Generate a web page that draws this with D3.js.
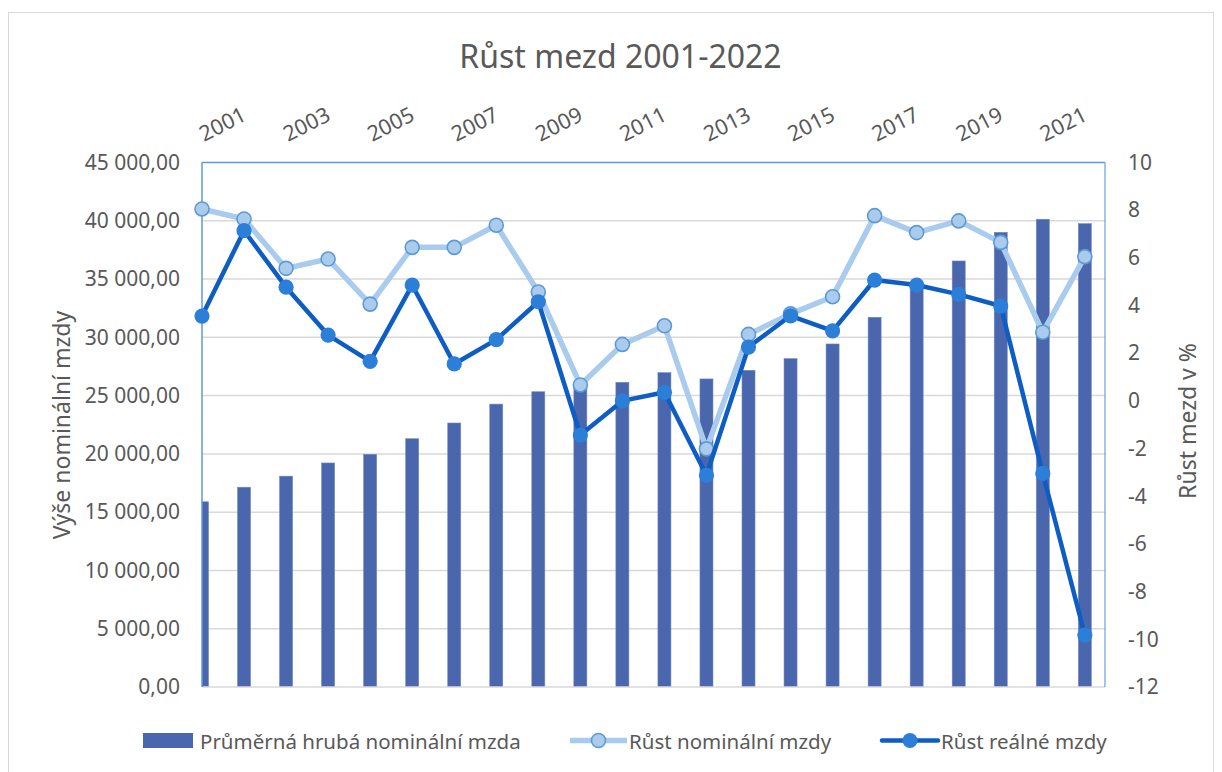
<!DOCTYPE html>
<html>
<head>
<meta charset="utf-8">
<script src="https://cdn.jsdelivr.net/npm/d3@7"></script>
<style>
  body { margin: 0; background: #fff; }
  svg { display: block; }
  text { font-family: "Noto Sans", "Open Sans", sans-serif; fill: #595959; }
</style>
</head>
<body>
<svg id="chart" width="1222" height="772"></svg>
<script>
// Years on the category axis
const years = ["2001","2002","2003","2004","2005","2006","2007","2008","2009","2010","2011",
               "2012","2013","2014","2015","2016","2017","2018","2019","2020","2021","2022"];
// Year labels printed along the top axis
const topLabels = ["2001","2003","2005","2007","2009","2011","2013","2015","2017","2019","2021"];

// Average gross nominal wage (CZK)
const wages = [15890, 17140, 18090, 19220, 19960, 21300, 22650, 24270, 25330, 25600, 26140,
               26970, 26430, 27170, 28170, 29430, 31720, 34600, 36550, 39010, 40130, 39750];
// Nominal wage growth (%)
const nominalGrowth = [8.05, 7.63, 5.56, 5.95, 4.06, 6.44, 6.44, 7.37, 4.57, 0.67, 2.37,
                       3.15, -2.01, 2.79, 3.65, 4.37, 7.77, 7.06, 7.55, 6.65, 2.88, 6.05];
// Real wage growth (%)
const realGrowth = [3.56, 7.14, 4.77, 2.76, 1.66, 4.86, 1.55, 2.57, 4.16, -1.43, 0.0,
                    0.36, -3.12, 2.26, 3.57, 2.94, 5.07, 4.86, 4.47, 3.98, -3.04, -9.82];

// Axis ticks
const wageTicks = [0, 5000, 10000, 15000, 20000, 25000, 30000, 35000, 40000, 45000];
const growthTicks = [-12, -10, -8, -6, -4, -2, 0, 2, 4, 6, 8, 10];

const C = {
  bar: "#4A66AC",
  nomLine: "#A9CCEE", nomFill: "#ABCBEC", nomStroke: "#5B9BD5",
  realLine: "#0E5DC5", realFill: "#2B7FD9",
  grid: "#D9D9D9", frame: "#5B9BD5", text: "#595959"
};

const plot = { left: 202, right: 1105, top: 162.5, bottom: 687 };
const svg = d3.select("#chart");

// Chart outline
svg.append("rect")
  .attr("x", 8.5).attr("y", 12.5).attr("width", 1205).attr("height", 780)
  .attr("fill", "none").attr("stroke", C.grid).attr("stroke-width", 1);

const locale = d3.formatLocale({ decimal: ",", thousands: " ", grouping: [3], currency: ["", ""], minus: "-" });
const fmtWage = locale.format(",.2f");
const fmtGrowth = locale.format("d");

const step = (plot.right - plot.left) / 21.48;
const x = d3.scalePoint().domain(years).range([plot.left, plot.left + step * (years.length - 1)]);
const yL = d3.scaleLinear().domain([0, 45000]).range([plot.bottom, plot.top]);
const yR = d3.scaleLinear().domain([-12, 10]).range([plot.bottom, plot.top]);

svg.append("defs").append("clipPath").attr("id", "plotClip")
  .append("rect")
  .attr("x", plot.left).attr("y", plot.top)
  .attr("width", plot.right - plot.left).attr("height", plot.bottom - plot.top);

// Horizontal gridlines
svg.append("g").selectAll("line")
  .data(wageTicks.filter(t => t > 0 && t < 45000))
  .join("line")
  .attr("x1", plot.left).attr("x2", plot.right)
  .attr("y1", d => yL(d)).attr("y2", d => yL(d))
  .attr("stroke", C.grid).attr("stroke-width", 1.5);

// Wage bars
const barW = 13;
svg.append("g").attr("clip-path", "url(#plotClip)")
  .selectAll("rect")
  .data(wages)
  .join("rect")
  .attr("x", (d, i) => x(years[i]) - barW / 2)
  .attr("width", barW)
  .attr("y", d => yL(d))
  .attr("height", d => yL(0) - yL(d))
  .attr("fill", C.bar)
  .attr("stroke", "#6F87C0").attr("stroke-width", 0.6);

// Plot frame
svg.append("line").attr("x1", plot.left).attr("x2", plot.right).attr("y1", plot.bottom).attr("y2", plot.bottom)
  .attr("stroke", C.grid).attr("stroke-width", 1.5);
svg.append("line").attr("x1", plot.left).attr("x2", plot.right).attr("y1", plot.top).attr("y2", plot.top)
  .attr("stroke", C.frame).attr("stroke-width", 1.5);
svg.append("line").attr("x1", plot.left).attr("x2", plot.left).attr("y1", plot.top).attr("y2", plot.bottom)
  .attr("stroke", C.frame).attr("stroke-width", 1.5);
svg.append("line").attr("x1", plot.right).attr("x2", plot.right).attr("y1", plot.top).attr("y2", plot.bottom)
  .attr("stroke", C.frame).attr("stroke-width", 1.5).attr("stroke-opacity", 0.75);

const line = d3.line().x((d, i) => x(years[i])).y(d => yR(d));

// Nominal growth line
svg.append("path").datum(nominalGrowth)
  .attr("d", line).attr("fill", "none")
  .attr("stroke", C.nomLine).attr("stroke-width", 5.5)
  .attr("stroke-linejoin", "round").attr("stroke-linecap", "round");
svg.append("g").selectAll("circle").data(nominalGrowth).join("circle")
  .attr("cx", (d, i) => x(years[i])).attr("cy", d => yR(d)).attr("r", 7)
  .attr("fill", C.nomFill).attr("stroke", C.nomStroke).attr("stroke-width", 1.6);

// Real growth line
svg.append("path").datum(realGrowth)
  .attr("d", line).attr("fill", "none")
  .attr("stroke", C.realLine).attr("stroke-width", 4.5)
  .attr("stroke-linejoin", "round").attr("stroke-linecap", "round");
svg.append("g").selectAll("circle").data(realGrowth).join("circle")
  .attr("cx", (d, i) => x(years[i])).attr("cy", d => yR(d)).attr("r", 7.6)
  .attr("fill", C.realFill);

// Left axis (wage level)
const axL = svg.append("g").attr("transform", `translate(${plot.left},0)`)
  .call(d3.axisLeft(yL).tickValues(wageTicks).tickFormat(fmtWage).tickSize(0).tickPadding(22));
axL.select(".domain").remove();
axL.selectAll("text").attr("font-family", null).attr("font-size", 21).style("fill", C.text);

// Right axis (growth %)
const axR = svg.append("g").attr("transform", `translate(${plot.right},0)`)
  .call(d3.axisRight(yR).tickValues(growthTicks).tickFormat(fmtGrowth).tickSize(0).tickPadding(23));
axR.select(".domain").remove();
axR.selectAll("text").attr("font-family", null).attr("font-size", 21).style("fill", C.text);

// Top year labels, slanted
svg.append("g").selectAll("text").data(topLabels).join("text")
  .attr("transform", d => `translate(${x(d) + 2},142) rotate(-27)`)
  .attr("text-anchor", "start")
  .attr("font-size", 21.5)
  .text(d => d);

// Title
svg.append("text").attr("x", 620.5).attr("y", 68).attr("text-anchor", "middle")
  .attr("font-size", 32).text("Růst mezd 2001-2022");

// Axis titles
svg.append("text").attr("transform", "translate(70,425) rotate(-90)")
  .attr("text-anchor", "middle").attr("font-size", 23).text("Výše nominální mzdy");
svg.append("text").attr("transform", "translate(1196,421) rotate(-90)")
  .attr("text-anchor", "middle").attr("font-size", 23).text("Růst mezd v %");

// Legend
const ly = 740.5;
const lg = svg.append("g");
lg.append("rect").attr("x", 143).attr("y", ly - 7.5).attr("width", 50).attr("height", 15).attr("fill", C.bar);
lg.append("text").attr("x", 200).attr("y", ly).attr("dominant-baseline", "central")
  .attr("font-size", 20.5).text("Průměrná hrubá nominální mzda");

lg.append("line").attr("x1", 570).attr("x2", 627).attr("y1", ly).attr("y2", ly)
  .attr("stroke", C.nomLine).attr("stroke-width", 5.5);
lg.append("circle").attr("cx", 598.5).attr("cy", ly).attr("r", 7)
  .attr("fill", C.nomFill).attr("stroke", C.nomStroke).attr("stroke-width", 1.6);
lg.append("text").attr("x", 629).attr("y", ly).attr("dominant-baseline", "central")
  .attr("font-size", 20.5).text("Růst nominální mzdy");

lg.append("line").attr("x1", 882).attr("x2", 938).attr("y1", ly).attr("y2", ly)
  .attr("stroke", C.realLine).attr("stroke-width", 4.5).attr("stroke-linecap", "round");
lg.append("circle").attr("cx", 910).attr("cy", ly).attr("r", 7.6).attr("fill", C.realFill);
lg.append("text").attr("x", 941).attr("y", ly).attr("dominant-baseline", "central")
  .attr("font-size", 20.5).text("Růst reálné mzdy");
</script>
</body>
</html>
